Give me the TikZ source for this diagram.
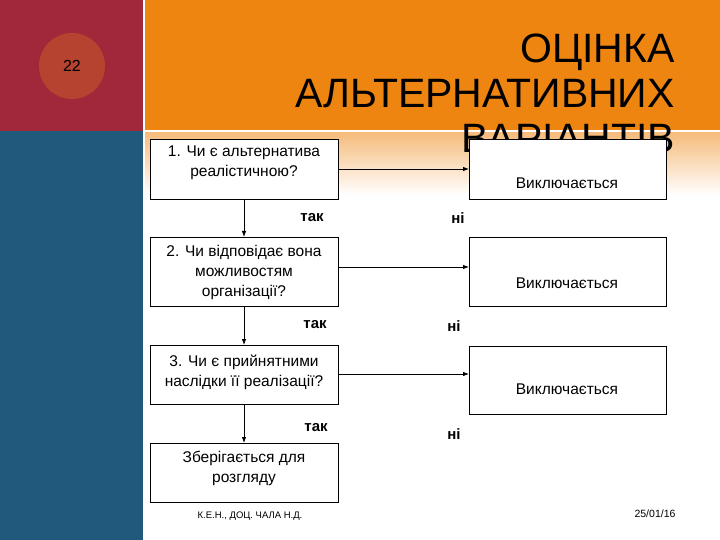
\documentclass[tikz,border=0pt]{standalone}
\usepackage{fontspec}
\setmainfont{Liberation Sans}
\usetikzlibrary{arrows.meta}
\definecolor{redband}{HTML}{A1283A}
\definecolor{orband}{HTML}{EE8511}
\definecolor{blueband}{HTML}{1F5A7C}
\definecolor{circ}{HTML}{B5432F}
\tikzset{
  qbox/.style={draw=black, line width=0.8pt, fill=white},
  qtext/.style={font=\fontsize{15.5}{20}\selectfont, align=center, inner sep=0pt},
  lbl/.style={font=\fontsize{15}{18}\selectfont\bfseries, inner sep=0pt},
  arr/.style={line width=0.8pt, -{Latex[length=6pt,width=4.5pt]}},
  ttl/.style={font=\fontsize{41}{45}\selectfont, inner sep=0pt, anchor=base east},
  foot/.style={font=\fontsize{9.5}{11}\selectfont, inner sep=0pt}
}
\begin{document}
\begin{tikzpicture}[x=1pt,y=-1pt]
\useasboundingbox (0,0) rectangle (720,540);
\fill[white] (0,0) rectangle (720,540);
% background bands
\fill[redband] (0,0) rectangle (143,131);
\fill[blueband] (0,131) rectangle (143,540);
\fill[orband] (145,0) rectangle (720,130);
\shade[top color=orband!55, bottom color=white] (145,133) rectangle (720,195);
\fill[circ] (72,66) circle (33);
\node[font=\fontsize{16}{18}\selectfont, inner sep=0pt] (num) at (72,66) {22};
% title
\node[ttl] (t1) at (675,63) {ОЦІНКА};
\node[ttl] (t2) at (675,108) {АЛЬТЕРНАТИВНИХ};
\node[ttl] (t3) at (675,153) {ВАРІАНТІВ};
% left boxes
\draw[qbox] (150,139) rectangle (338,199);
\draw[qbox] (150,237) rectangle (338,306);
\draw[qbox] (150,345) rectangle (338,404);
\draw[qbox] (150,443) rectangle (338,502);
\node[qtext] (q1) at (244,163) {1. Чи є альтернатива\\реалістичною?};
\node[qtext] (q2) at (244,272) {2. Чи відповідає вона\\можливостям\\організації?};
\node[qtext] (q3) at (244,372) {3. Чи є прийнятними\\наслідки її реалізації?};
\node[qtext] (q4) at (244,468) {Зберігається для\\розгляду};
% right boxes
\draw[qbox] (469,139) rectangle (666,199);
\draw[qbox] (469,237) rectangle (666,306);
\draw[qbox] (469,346) rectangle (666,414);
\node[qtext] (r1) at (567,183) {Виключається};
\node[qtext] (r2) at (567,283) {Виключається};
\node[qtext] (r3) at (567,389) {Виключається};
% coordinates for connectors
\coordinate (L1b) at (244,199);
\coordinate (L2t) at (244,237);
\coordinate (L2b) at (244,306);
\coordinate (L3t) at (244,345);
\coordinate (L3b) at (244,404);
\coordinate (L4t) at (244,443);
\coordinate (L1r) at (338,169);
\coordinate (R1l) at (469,169);
\coordinate (L2r) at (338,267);
\coordinate (R2l) at (469,267);
\coordinate (L3r) at (338,374);
\coordinate (R3l) at (469,374);
\draw[arr] (L1b) -- (L2t);
\draw[arr] (L2b) -- (L3t);
\draw[arr] (L3b) -- (L4t);
\draw[arr] (L1r) -- (R1l);
\draw[arr] (L2r) -- (R2l);
\draw[arr] (L3r) -- (R3l);
% labels
\node[lbl] (y1) at (312,218) {так};
\node[lbl] (n1) at (458,218) {ні};
\node[lbl] (y2) at (315,325) {так};
\node[lbl] (n2) at (454,326) {ні};
\node[lbl] (y3) at (316,428) {так};
\node[lbl] (n3) at (454,434) {ні};
% footer
\node[foot] (f1) at (250,516) {К.Е.Н., ДОЦ. ЧАЛА Н.Д.};
\node[foot, font=\fontsize{10.5}{12}\selectfont] (f2) at (655,514) {25/01/16};
\end{tikzpicture}
\end{document}
